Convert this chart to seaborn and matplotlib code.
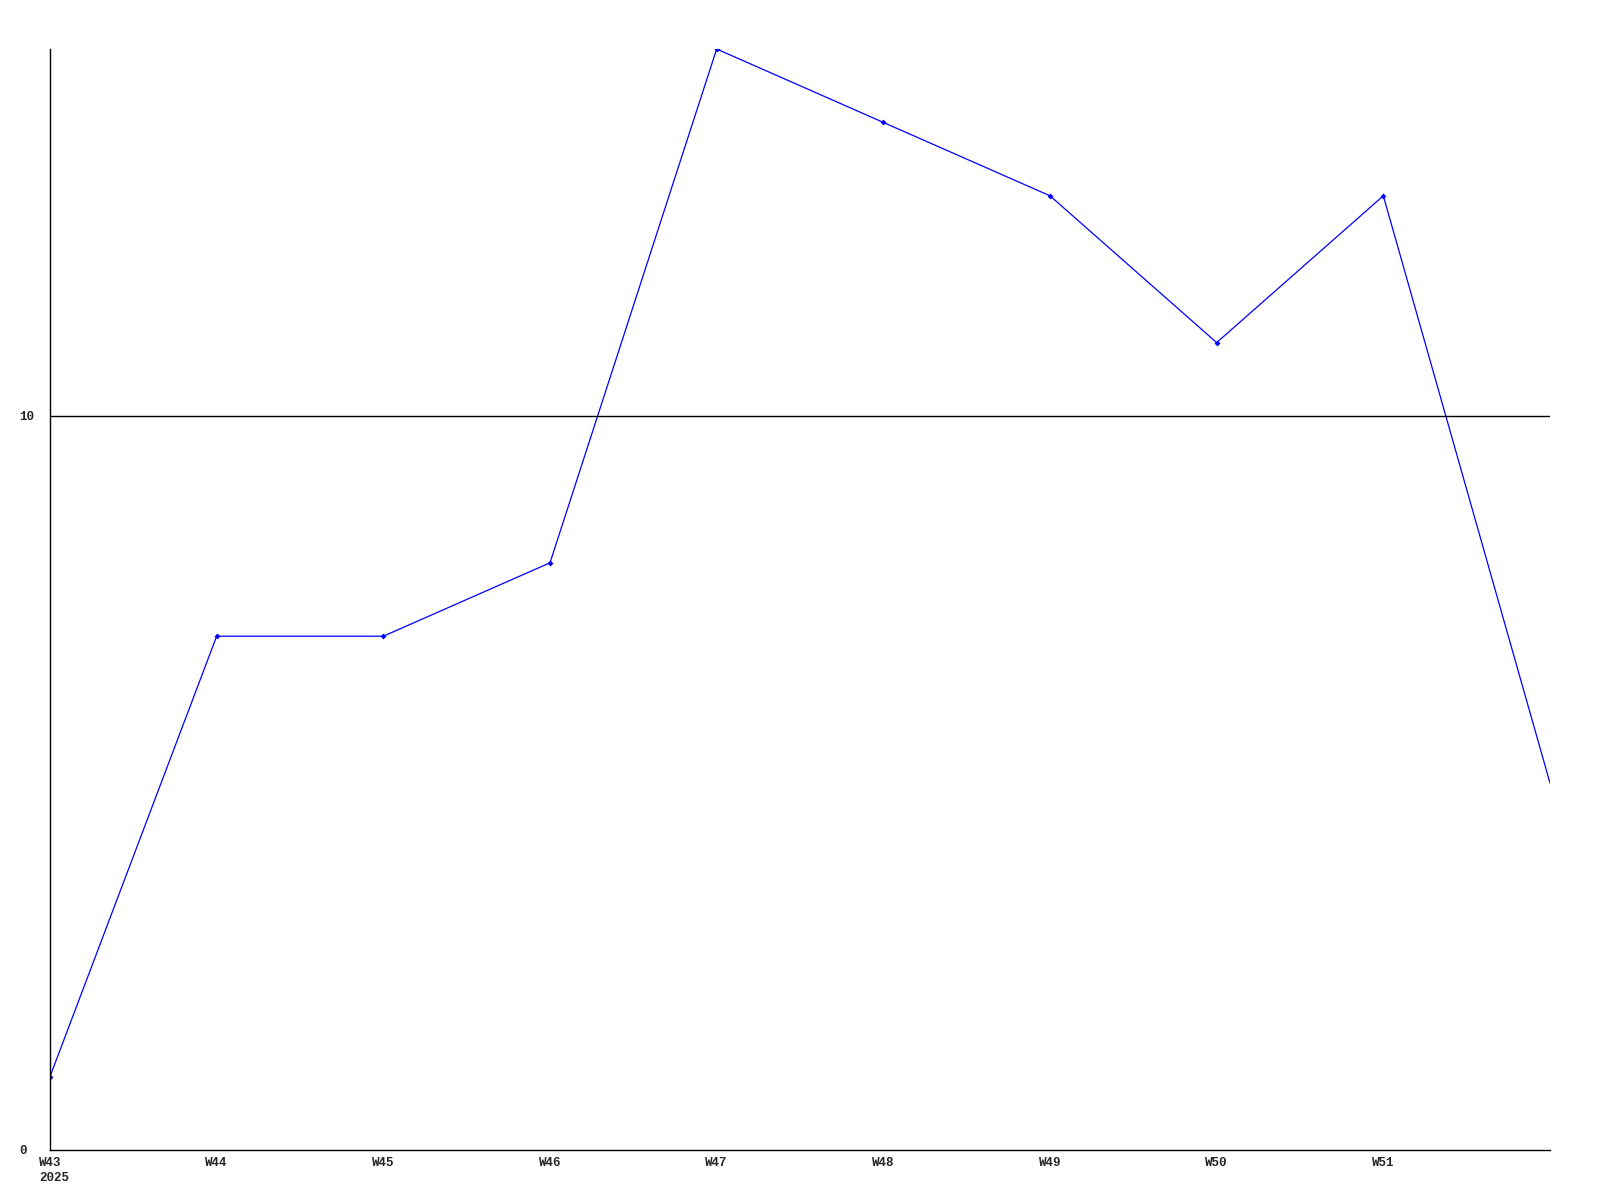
import numpy as np
import pandas as pd
import seaborn as sns
import matplotlib.pyplot as plt

weeks = ["W43", "W44", "W45", "W46", "W47", "W48", "W49", "W50", "W51", "W52"]
week_labels = ["W43", "W44", "W45", "W46", "W47", "W48", "W49", "W50", "W51"]
year_label = "2025"
values = [1, 7, 7, 8, 15, 14, 13, 11, 13, 5]

df = pd.DataFrame({"pos": np.arange(len(weeks)), "week": weeks, "value": values})

sns.set_style("white")
plt.rcParams['font.family'] = ['Liberation Mono', 'DejaVu Sans Mono']

fig = plt.figure(figsize=(16, 12), dpi=100)
ax = fig.add_axes([50/1600, 50/1200, 1500/1600, 1101/1200])

sns.lineplot(data=df, x="pos", y="value", ax=ax, color="#0000ff", linewidth=0.9,
             marker="D", markersize=3, markeredgewidth=0, markevery=list(range(9)))
ax.axhline(10, color="black", linewidth=1)

ax.set_xlim(0, 9)
ax.set_ylim(0, 15)
ax.set_xticks(range(9))
ax.set_xticklabels(week_labels, fontsize=9, fontweight="bold")
ax.set_yticks([0, 10])
ax.set_yticklabels(["0", "10"], fontsize=9, fontweight="bold", ha="left")
ax.tick_params(axis="x", length=0, pad=5)
ax.tick_params(axis="y", length=0, pad=22)

# year under the first week, left-aligned with it
ax.annotate(year_label, xy=(0, 0), xycoords=("data", "axes fraction"),
            xytext=(-8.1, -15.5), textcoords="offset points",
            ha="left", va="top", fontsize=9, fontweight="bold")

ax.set_xlabel("")
ax.set_ylabel("")
for s in ["top", "right"]:
    ax.spines[s].set_visible(False)
for s in ["left", "bottom"]:
    ax.spines[s].set_color("black")
    ax.spines[s].set_linewidth(1)

fig.savefig("out.png", dpi=100)
